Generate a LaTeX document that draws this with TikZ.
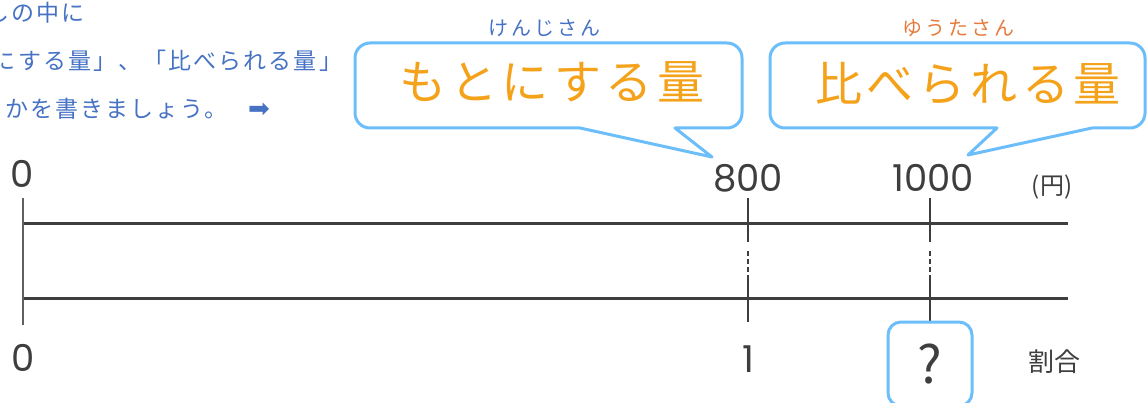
\documentclass[tikz,border=0pt]{standalone}
\usepackage{fontspec}
\setmainfont{Noto Sans CJK JP}
\newfontfamily\jpspaced[LetterSpace=9]{Noto Sans CJK JP}
\newfontfamily\jpbig[LetterSpace=10]{Noto Sans CJK JP}
\newfontfamily\jpruby[LetterSpace=15]{Noto Sans CJK JP}
\newfontfamily\jpplain{Noto Sans CJK JP}
\newfontfamily\numfont{Poppins}
\newfontfamily\symfont{DejaVu Sans}
\definecolor{instblue}{RGB}{70,114,196}
\definecolor{rubyorange}{RGB}{232,122,60}
\definecolor{mainorange}{RGB}{245,162,27}
\definecolor{bubbleblue}{RGB}{108,190,250}
\definecolor{ink}{RGB}{62,62,62}
\definecolor{axisgray}{RGB}{96,96,96}
\tikzset{
  insttext/.style={anchor=base west, inner sep=0pt, text=instblue, font=\jpspaced\fontsize{23}{23}\selectfont},
  rubytext/.style={inner sep=0pt, font=\jpruby\fontsize{20}{20}\selectfont},
  bigtext/.style={inner sep=0pt, text=mainorange, font=\jpbig\fontsize{47}{47}\selectfont},
  bubble/.style={draw=bubbleblue, line width=3pt, fill=white, line join=round},
  numtext/.style={inner sep=0pt, text=ink, font=\numfont\fontsize{37}{37}\selectfont},
  unittext/.style={inner sep=0pt, text=ink, font=\jpplain\fontsize{24}{24}\selectfont},
  axisline/.style={draw=ink, line width=3pt},
  tickline/.style={draw=ink, line width=2pt},
}
\begin{document}
\begin{tikzpicture}[x=1pt,y=1pt]
\useasboundingbox (0,0) rectangle (1147,-403);
\clip (0,0) rectangle (1147,-403);
% instructions
\node[insttext] (l1) at (-89,-22) {ふきだしの中に};
\node[insttext] (l2) at (-82,-70) {「もとにする量」、「比べられる量」};
\node[insttext] (l3) at (-95,-118) {のどちらかを書きましょう。};
\node[inner sep=0pt, text=instblue, font=\symfont\fontsize{26}{26}\selectfont] (arr) at (259,-110) {➡};
% bubble 1
\draw[bubble] (580,-128) -- (712,-157) -- (675,-128) -- (727,-128)
  arc[start angle=270, end angle=360, radius=15] -- (742,-58)
  arc[start angle=0, end angle=90, radius=15] -- (370,-43)
  arc[start angle=90, end angle=180, radius=15] -- (355,-113)
  arc[start angle=180, end angle=270, radius=15] -- cycle;
% bubble 2
\draw[bubble] (997,-128) -- (968,-155) -- (1092,-128) -- (1130,-128)
  arc[start angle=270, end angle=360, radius=15] -- (1145,-58)
  arc[start angle=0, end angle=90, radius=15] -- (785,-43)
  arc[start angle=90, end angle=180, radius=15] -- (770,-113)
  arc[start angle=180, end angle=270, radius=15] -- cycle;
\node[rubytext, text=instblue] (r1) at (544,-28) {けんじさん};
\node[rubytext, text=rubyorange] (r2) at (958,-28) {ゆうたさん};
\node[bigtext] (b1) at (552,-82) {もとにする量};
\node[bigtext] (b2) at (968,-83) {比べられる量};
% number lines
\draw[axisline] (24,-224) -- (1068,-224);
\draw[axisline] (24,-298) -- (1068,-298);
\draw[draw=axisgray, line width=2pt] (23,-198) -- (23,-325);
% tick 800
\draw[tickline] (748,-198) -- (748,-242);
\draw[tickline, line width=1.5pt, dash pattern=on 5pt off 3pt] (748,-251) -- (748,-277);
\draw[tickline] (748,-277) -- (748,-322);
% tick 1000
\draw[tickline] (930,-198) -- (930,-242);
\draw[tickline, line width=1.5pt, dash pattern=on 5pt off 3pt] (930,-251) -- (930,-277);
\draw[tickline] (930,-277) -- (930,-322);
% question box
\draw[bubble, rounded corners=13] (888,-322) rectangle (972,-406);
% labels
\node[numtext] (z1) at (22,-174) {0};
\node[numtext] (n800) at (748,-178) {800};
\node[numtext] (n1000) at (933,-178) {1000};
\node[unittext] (yen) at (1052,-187) {(円)};
\node[numtext] (z2) at (23,-358) {0};
\node[numtext] (one) at (748,-359) {1};
\node[inner sep=0pt, text=ink, font=\jpplain\fontsize{52}{52}\selectfont] (q) at (930,-364) {?};
\node[unittext, font=\jpplain\fontsize{26}{26}\selectfont] (wari) at (1054,-362) {割合};
\end{tikzpicture}
\end{document}
